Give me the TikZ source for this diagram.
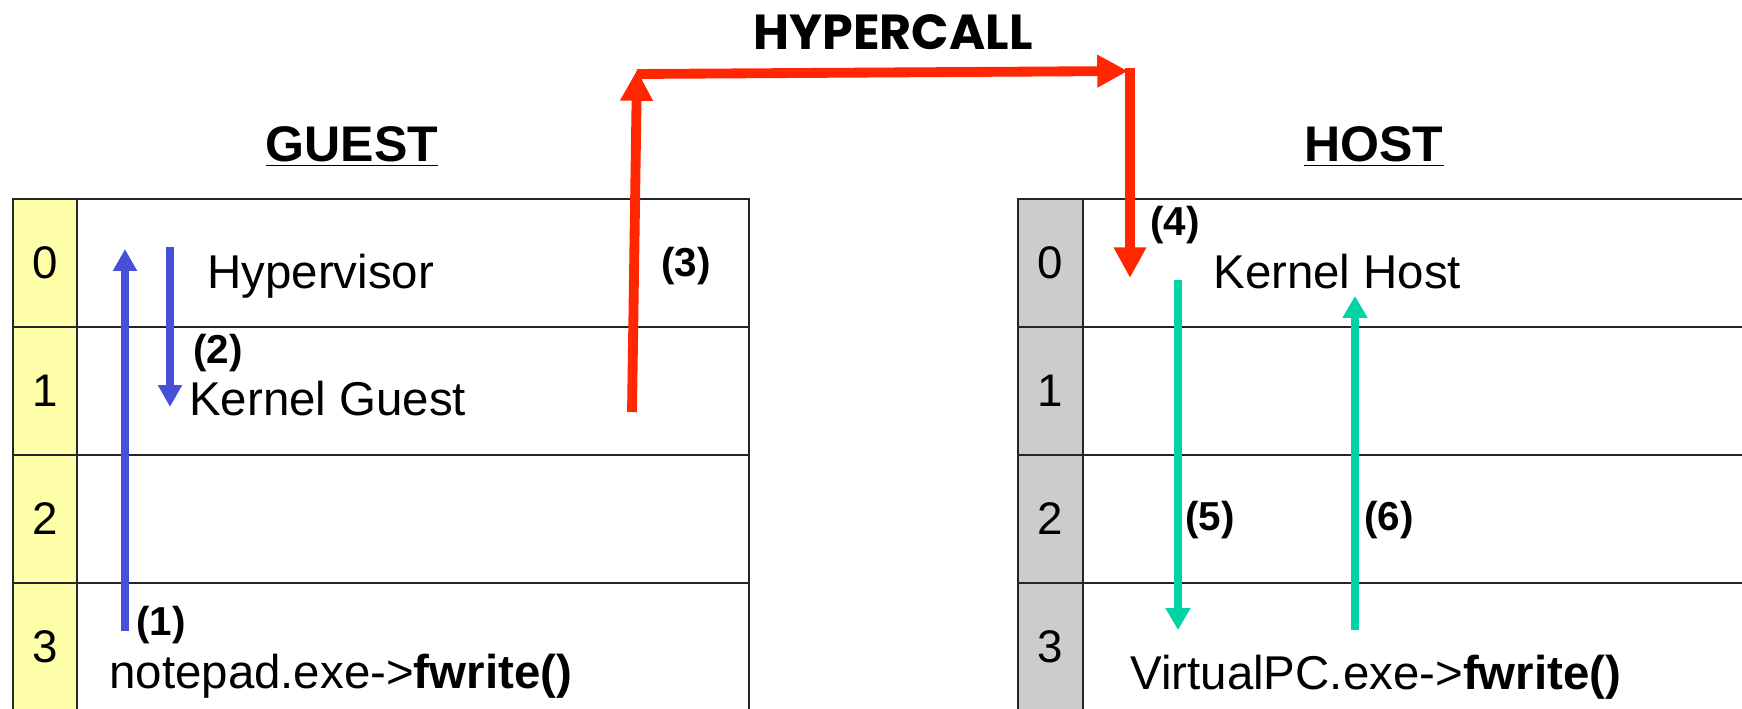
\documentclass[tikz,border=0pt]{standalone}
\usepackage{fontspec}
\setmainfont{Liberation Sans}
\newfontfamily\hcfont{Poppins}
\usepackage{xcolor}
\usepackage{tikz}
\usetikzlibrary{arrows.meta}

\definecolor{ringyellow}{HTML}{FFFFAA}
\definecolor{ringgray}{HTML}{CCCCCC}
\definecolor{callblue}{HTML}{4650D8}
\definecolor{callred}{HTML}{FF2600}
\definecolor{callgreen}{HTML}{00D4A6}

\begin{document}
\begin{tikzpicture}[x=0.02cm,y=-0.02cm,
    txt/.style={inner sep=0pt,anchor=base west,font=\fontsize{27}{31}\selectfont},
    ringnum/.style={inner sep=0pt,font=\fontsize{26}{30}\selectfont},
    steplbl/.style={inner sep=0pt,font=\fontsize{23}{27}\selectfont\bfseries},
    title/.style={inner sep=0pt,anchor=base,font=\fontsize{28.5}{33}\selectfont\bfseries},
    bluearrow/.style={draw=callblue,line width=4pt,-{Triangle[length=12.5pt,width=13pt]}},
    greenarrow/.style={draw=callgreen,line width=4.2pt,-{Triangle[length=12.5pt,width=13.5pt]}},
    redarrow/.style={draw=callred,line width=5.6pt,-{Triangle[length=17.5pt,width=17.5pt]}},
    grid/.style={draw=black!85,line width=1.2pt}]
    \useasboundingbox (0,0) rectangle (1742,709);
    \clip (0,0) rectangle (1742,709);

    % guest rings
    \fill[ringyellow] (13,199) rectangle (77,720);
    \draw[grid] (13,199) rectangle (749,720);
    \draw[grid] (77,199) -- (77,720);
    \draw[grid] (13,327) -- (749,327);
    \draw[grid] (13,455) -- (749,455);
    \draw[grid] (13,583) -- (749,583);

    % host rings
    \fill[ringgray] (1018,199) rectangle (1083,720);
    \draw[grid] (1760,199) -- (1018,199) -- (1018,720);
    \draw[grid] (1083,199) -- (1083,720);
    \draw[grid] (1018,327) -- (1760,327);
    \draw[grid] (1018,455) -- (1760,455);
    \draw[grid] (1018,583) -- (1760,583);

    \node[ringnum] (g0) at (45,263) {0};
    \node[ringnum] (g1) at (45,391) {1};
    \node[ringnum] (g2) at (45,519) {2};
    \node[ringnum] (g3) at (45,647) {3};
    \node[ringnum] (h0) at (1050,263) {0};
    \node[ringnum] (h1) at (1050,391) {1};
    \node[ringnum] (h2) at (1050,519) {2};
    \node[ringnum] (h3) at (1050,647) {3};

    \node[title] (guest) at (352,162) {\underline{GUEST}};
    \node[title] (host) at (1374,162) {\underline{HOST}};
    \node[inner sep=0pt,anchor=base,font=\hcfont\fontsize{28}{32}\selectfont\bfseries] (hypercall) at (893,50) {HYPERCALL};

    \node[txt] (hyper) at (207,289) {Hypervisor};
    \node[txt] (kguest) at (189,416) {Kernel Guest};
    \node[txt] (notepad) at (109,688) {notepad.exe->\textbf{fwrite()}};
    \node[txt] (khost) at (1213,289) {Kernel Host};
    \node[txt] (vpc) at (1130,689) {VirtualPC.exe->\textbf{fwrite()}};

    \node[steplbl] (s1) at (161,625) {(1)};
    \node[steplbl] (s2) at (218,353) {(2)};
    \node[steplbl] (s3) at (686,266) {(3)};
    \node[steplbl] (s4) at (1175,225) {(4)};
    \node[steplbl] (s5) at (1210,520) {(5)};
    \node[steplbl] (s6) at (1389,520) {(6)};

    % arrow ends
    \coordinate (upFrom) at (125,631);
    \coordinate (upTo) at (125,249);
    \coordinate (downFrom) at (170,247);
    \coordinate (downTo) at (170,407);
    \coordinate (hcBottom) at (632,412);
    \coordinate (hcCorner) at (637,70);
    \coordinate (hcStart) at (637,74);
    \coordinate (hcRight) at (1128,71);
    \coordinate (hcTop) at (1130,68);
    \coordinate (hcEnd) at (1130,278);
    \coordinate (retFrom) at (1178,280);
    \coordinate (retTo) at (1178,630);
    \coordinate (backFrom) at (1355,630);
    \coordinate (backTo) at (1355,296);

    \draw[bluearrow] (upFrom) -- (upTo);
    \draw[bluearrow] (downFrom) -- (downTo);
    \draw[redarrow] (hcBottom) -- (hcCorner);
    \draw[redarrow] (hcStart) -- (hcRight);
    \draw[redarrow] (hcTop) -- (hcEnd);
    \draw[greenarrow] (retFrom) -- (retTo);
    \draw[greenarrow] (backFrom) -- (backTo);
\end{tikzpicture}
\end{document}
